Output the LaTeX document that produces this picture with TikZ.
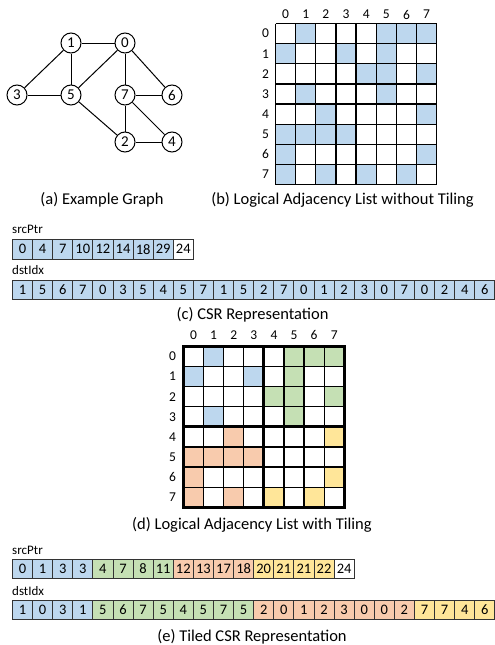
\documentclass[tikz,border=0pt]{standalone}
\usepackage{fontspec}
\setmainfont{Carlito}
\definecolor{cblue}{HTML}{BDD7EE}
\definecolor{cgreen}{HTML}{C5E0B4}
\definecolor{corange}{HTML}{F8CBAD}
\definecolor{cyellow}{HTML}{FFE699}
\begin{document}
\begin{tikzpicture}[x=1pt,y=-1pt,
  gnode/.style={circle,draw,line width=1pt,minimum size=20pt,inner sep=0pt,font=\fontsize{15}{15}\selectfont},
  gedge/.style={line width=1pt},
  lab/.style={inner sep=0pt,font=\fontsize{13.5}{13.5}\selectfont},
  captext/.style={inner sep=0pt,font=\fontsize{16.5}{16.5}\selectfont},
  alab/.style={inner sep=0pt,anchor=west,font=\fontsize{13}{13}\selectfont},
  cell/.style={draw=black!80,line width=0.9pt,minimum width=20.1pt,minimum height=19.5pt,inner sep=0pt,anchor=north west,font=\fontsize{14.5}{14.5}\selectfont},
  gridthin/.style={line width=1.3pt},
  gridthick/.style={line width=3pt}]
\useasboundingbox (0,0) rectangle (495,645);

% (a) graph
\node[gnode] (g1) at (71,43) {1};
\node[gnode] (g0) at (125,43) {0};
\node[gnode] (g3) at (17,95) {3};
\node[gnode] (g5) at (71,95) {5};
\node[gnode] (g7) at (125,95) {7};
\node[gnode] (g6) at (172,95) {6};
\node[gnode] (g2) at (125,142) {2};
\node[gnode] (g4) at (172,142) {4};
\foreach \a/\b in {1/0,1/3,1/5,0/5,0/7,0/6,3/5,5/2,7/6,7/2,7/4,2/4}
  \draw[gedge] (g\a) -- (g\b);
\node[captext] (capa) at (102,200) {(a) Example Graph};

% (b) matrix without tiling
\def\bx{275.5}\def\by{23.5}\def\bs{20.15}
\foreach \r/\c in {0/1,0/5,0/6,0/7,1/0,1/3,1/5,2/4,2/5,2/7,3/1,3/5,4/2,4/7,5/0,5/1,5/2,5/3,6/0,6/7,7/0,7/2,7/4,7/6}
  \fill[cblue] ({\bx+\c*\bs},{\by+\r*\bs}) rectangle ++(\bs,\bs);
\foreach \i in {0,...,8}{
  \draw[gridthin] ({\bx+\i*\bs},\by) -- ({\bx+\i*\bs},{\by+8*\bs});
  \draw[gridthin] (\bx,{\by+\i*\bs}) -- ({\bx+8*\bs},{\by+\i*\bs});
}
\foreach \i in {0,...,7}{
  \node[lab] (bc\i) at ({\bx+(\i+0.5)*\bs},14.5) {\i};
  \node[lab] (br\i) at (265.5,{\by+(\i+0.5)*\bs}) {\i};
}
\node[captext] (capb) at (342.5,200) {(b) Logical Adjacency List without Tiling};

% (c) CSR
\node[alab] (cslab) at (12,229) {srcPtr};
\foreach \v [count=\i from 0] in {0,4,7,10,12,14,18,29}
  \node[cell,fill=cblue] (cs\i) at ({12+\i*20.1},239) {\v};
\node[cell,fill=white] (cs8) at ({12+8*20.1},239) {24};
\node[alab] (cdlab) at (12,270) {dstIdx};
\foreach \v [count=\i from 0] in {1,5,6,7,0,3,5,4,5,7,1,5,2,7,0,1,2,3,0,7,0,2,4,6}
  \node[cell,fill=cblue] (cd\i) at ({12+\i*20.1},279.5) {\v};
\node[captext] (capc) at (252.5,315) {(c) CSR Representation};

% (d) matrix with tiling
\def\dx{183.5}\def\dy{346.5}\def\ds{20.1}
\foreach \r/\c/\col in {0/1/cblue,1/0/cblue,1/3/cblue,3/1/cblue,
  0/5/cgreen,0/6/cgreen,0/7/cgreen,1/5/cgreen,2/4/cgreen,2/5/cgreen,2/7/cgreen,3/5/cgreen,
  4/2/corange,5/0/corange,5/1/corange,5/2/corange,5/3/corange,6/0/corange,7/0/corange,7/2/corange,
  4/7/cyellow,6/7/cyellow,7/4/cyellow,7/6/cyellow}
  \fill[\col] ({\dx+\c*\ds},{\dy+\r*\ds}) rectangle ++(\ds,\ds);
\foreach \i in {1,2,3,5,6,7}{
  \draw[gridthin] ({\dx+\i*\ds},\dy) -- ({\dx+\i*\ds},{\dy+8*\ds});
  \draw[gridthin] (\dx,{\dy+\i*\ds}) -- ({\dx+8*\ds},{\dy+\i*\ds});
}
\draw[gridthick] (\dx,\dy) rectangle ({\dx+8*\ds},{\dy+8*\ds});
\draw[gridthick] ({\dx+4*\ds},\dy) -- ({\dx+4*\ds},{\dy+8*\ds});
\draw[gridthick] (\dx,{\dy+4*\ds}) -- ({\dx+8*\ds},{\dy+4*\ds});
\foreach \i in {0,...,7}{
  \node[lab] (dc\i) at ({\dx+(\i+0.5)*\ds},335) {\i};
  \node[lab] (dr\i) at (172.5,{\dy+(\i+0.5)*\ds}) {\i};
}
\node[captext] (capd) at (252,525) {(d) Logical Adjacency List with Tiling};

% (e) tiled CSR
\node[alab] (eslab) at (12,550) {srcPtr};
\foreach \v/\col [count=\i from 0] in {0/cblue,1/cblue,3/cblue,3/cblue,4/cgreen,7/cgreen,8/cgreen,11/cgreen,12/corange,13/corange,17/corange,18/corange,20/cyellow,21/cyellow,21/cyellow,22/cyellow,24/white}
  \node[cell,fill=\col] (es\i) at ({12+\i*20.1},558.5) {\v};
\node[alab] (edlab) at (12,591) {dstIdx};
\foreach \v/\col [count=\i from 0] in {1/cblue,0/cblue,3/cblue,1/cblue,5/cgreen,6/cgreen,7/cgreen,5/cgreen,4/cgreen,5/cgreen,7/cgreen,5/cgreen,2/corange,0/corange,1/corange,2/corange,3/corange,0/corange,0/corange,2/corange,7/cyellow,7/cyellow,4/cyellow,6/cyellow}
  \node[cell,fill=\col] (ed\i) at ({12+\i*20.1},599.5) {\v};
\node[captext] (cape) at (252,637) {(e) Tiled CSR Representation};
\end{tikzpicture}
\end{document}
